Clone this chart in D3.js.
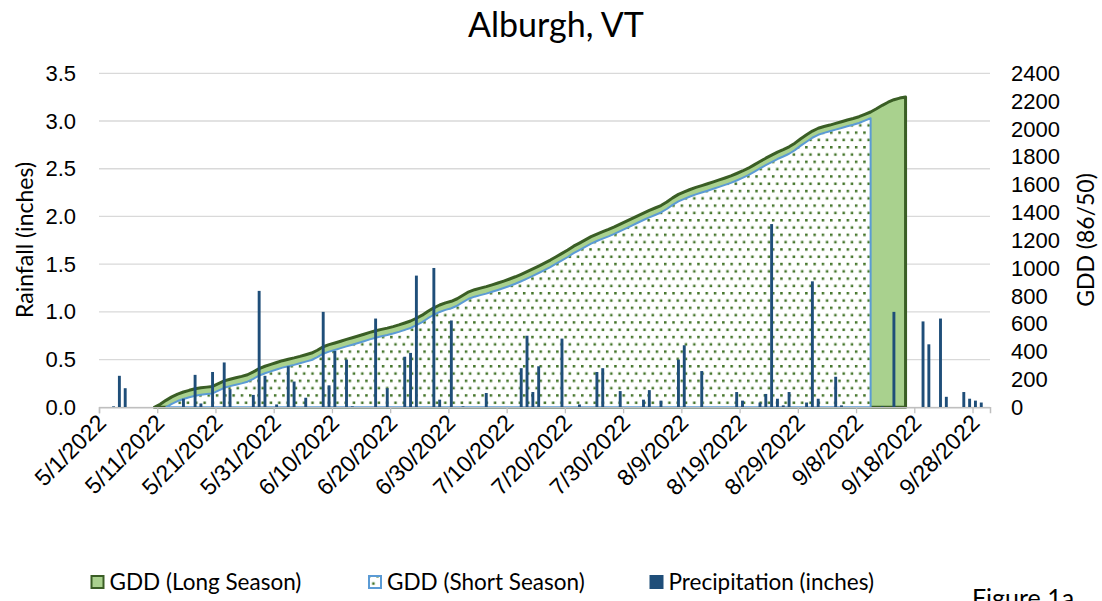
<!DOCTYPE html>
<html>
<head>
<meta charset="utf-8">
<script src="https://cdn.jsdelivr.net/npm/d3@7"></script>
<style>
  body { margin: 0; background: #fff; }
  svg { display: block; font-family: Lato, "Open Sans", sans-serif; }
</style>
</head>
<body>
<svg id="chart" width="1102" height="601"></svg>
<script>
const title = "Alburgh, VT";
const rainTitle = "Rainfall (inches)";
const gddTitle = "GDD (86/50)";
const figureLabel = "Figure 1a";

const xTickDates = ["5/1/2022", "5/11/2022", "5/21/2022", "5/31/2022", "6/10/2022", "6/20/2022",
  "6/30/2022", "7/10/2022", "7/20/2022", "7/30/2022", "8/9/2022", "8/19/2022", "8/29/2022",
  "9/8/2022", "9/18/2022", "9/28/2022"];
const rainTicks = [0, 0.5, 1, 1.5, 2, 2.5, 3, 3.5];
const gddTicks = [0, 200, 400, 600, 800, 1000, 1200, 1400, 1600, 1800, 2000, 2200, 2400];

// cumulative GDD, one value per day from the start date
const gddLongStart = "5/10/2022";
const gddLong = [
  0, 22, 50, 75, 95, 110, 122, 133, 140, 145,
  150, 170, 190, 202, 212, 222, 234, 255, 278, 295,
  308, 322, 335, 345, 355, 366, 378, 390, 410, 435,
  450, 462, 475, 488, 500, 512, 525, 538, 550, 560,
  569, 580, 592, 606, 620, 640, 662, 690, 715, 735,
  750, 762, 780, 805, 830, 845, 856, 867, 880, 893,
  907, 922, 938, 956, 975, 995, 1015, 1036, 1058, 1082,
  1106, 1130, 1158, 1180, 1203, 1226, 1245, 1262, 1278, 1296,
  1316, 1336, 1356, 1376, 1396, 1415, 1432, 1450, 1475, 1505,
  1530, 1548, 1565, 1580, 1593, 1606, 1620, 1634, 1648, 1663,
  1680, 1698, 1718, 1742, 1766, 1790, 1812, 1834, 1852, 1872,
  1898, 1930, 1958, 1985, 2005, 2018, 2028, 2040, 2052, 2064,
  2075, 2088, 2105, 2122, 2145, 2170, 2192, 2210, 2222, 2230
];

const gddShortStart = "5/12/2022";
const gddShort = [
  0, 25, 45, 60, 72, 83, 90, 95, 100, 120,
  140, 152, 162, 172, 184, 205, 228, 245, 258, 272,
  285, 295, 305, 316, 328, 340, 360, 385, 400, 412,
  425, 438, 450, 462, 475, 488, 500, 510, 519, 530,
  542, 556, 570, 590, 612, 640, 665, 685, 700, 712,
  730, 755, 780, 795, 806, 817, 830, 843, 857, 872,
  888, 906, 925, 945, 965, 986, 1008, 1032, 1056, 1080,
  1108, 1130, 1153, 1176, 1195, 1212, 1228, 1246, 1266, 1286,
  1306, 1326, 1346, 1365, 1382, 1400, 1425, 1455, 1480, 1498,
  1515, 1530, 1543, 1556, 1570, 1584, 1598, 1613, 1630, 1648,
  1668, 1692, 1716, 1740, 1762, 1784, 1802, 1822, 1848, 1880,
  1908, 1937, 1958, 1972, 1983, 1995, 2007, 2019, 2030, 2043,
  2060, 2077
];

const precipDates = [
  "5/3/2022", "5/4/2022", "5/5/2022", "5/15/2022", "5/17/2022", "5/18/2022", "5/20/2022",
  "5/22/2022", "5/23/2022", "5/27/2022", "5/28/2022", "5/29/2022", "5/31/2022", "6/2/2022",
  "6/3/2022", "6/5/2022", "6/8/2022", "6/9/2022", "6/10/2022", "6/12/2022", "6/13/2022",
  "6/17/2022", "6/19/2022", "6/22/2022", "6/23/2022", "6/24/2022", "6/27/2022", "6/28/2022",
  "6/30/2022", "7/2/2022", "7/6/2022", "7/12/2022", "7/13/2022", "7/14/2022", "7/15/2022",
  "7/19/2022", "7/22/2022", "7/25/2022", "7/26/2022", "7/29/2022", "8/2/2022", "8/3/2022",
  "8/5/2022", "8/8/2022", "8/9/2022", "8/12/2022", "8/18/2022", "8/19/2022", "8/22/2022",
  "8/23/2022", "8/24/2022", "8/25/2022", "8/26/2022", "8/27/2022", "8/30/2022", "8/31/2022",
  "9/1/2022", "9/4/2022", "9/5/2022", "9/12/2022", "9/14/2022", "9/19/2022", "9/20/2022",
  "9/22/2022", "9/23/2022", "9/26/2022", "9/27/2022", "9/28/2022", "9/29/2022"
];
const precipValues = [
  0.01, 0.33, 0.20, 0.09, 0.34, 0.04, 0.37,
  0.47, 0.19, 0.13, 1.22, 0.33, 0.03, 0.43,
  0.27, 0.10, 1.00, 0.23, 0.59, 0.50, 0.01,
  0.93, 0.20, 0.53, 0.57, 1.38, 1.46, 0.08,
  0.91, 0.01, 0.15, 0.41, 0.75, 0.16, 0.43,
  0.72, 0.03, 0.37, 0.41, 0.17, 0.08, 0.18,
  0.07, 0.50, 0.65, 0.38, 0.16, 0.07, 0.05,
  0.14, 1.92, 0.09, 0.02, 0.16, 0.05, 1.32,
  0.09, 0.32, 0.02, 0.01, 1.00, 0.90, 0.66,
  0.93, 0.11, 0.16, 0.09, 0.07, 0.05
];

const legendNames = ["GDD (Long Season)", "GDD (Short Season)", "Precipitation (inches)"];

const parseDate = d3.timeParse("%m/%d/%Y");
const formatDate = d3.timeFormat("%-m/%-d/%Y");

const margin = { left: 99, right: 990, top: 73.3, bottom: 407.3 };

const svg = d3.select("#chart");
svg.append("rect").attr("width", 1102).attr("height", 601).attr("fill", "#fff");

// dotted fill used by the short season area
const defs = svg.append("defs");
const pat = defs.append("pattern")
  .attr("id", "dots")
  .attr("patternUnits", "userSpaceOnUse")
  .attr("width", 8.3)
  .attr("height", 14.6);
pat.append("rect").attr("width", 8.3).attr("height", 14.6).attr("fill", "#fff");
pat.append("rect").attr("x", 0).attr("y", 0).attr("width", 2.5).attr("height", 2.5).attr("fill", "#44752a");
pat.append("rect").attr("x", 4.15).attr("y", 7.3).attr("width", 2.5).attr("height", 2.5).attr("fill", "#44752a");

const x = d3.scaleTime()
  .domain([parseDate("5/1/2022"), parseDate("10/1/2022")])
  .range([margin.left, margin.right]);
const yRain = d3.scaleLinear().domain([0, 3.5]).range([margin.bottom, margin.top]);
const yGdd = d3.scaleLinear().domain([0, 2400]).range([margin.bottom, margin.top]);

// bars and area points sit in the middle of their day
const mid = (d) => x(d3.timeHour.offset(d, 12));

// gridlines
svg.append("g")
  .selectAll("line")
  .data(rainTicks)
  .join("line")
  .attr("x1", margin.left)
  .attr("x2", margin.right)
  .attr("y1", (d) => yRain(d))
  .attr("y2", (d) => yRain(d))
  .attr("stroke", "#d9d9d9")
  .attr("stroke-width", 1.3);

const toSeries = (start, values) => {
  const s = parseDate(start);
  return values.map((v, i) => ({ date: d3.timeDay.offset(s, i), value: v }));
};

const area = d3.area()
  .x((d) => mid(d.date))
  .y0(yGdd(0))
  .y1((d) => yGdd(d.value));

svg.append("path")
  .datum(toSeries(gddLongStart, gddLong))
  .attr("d", area)
  .attr("fill", "#a9d18e")
  .attr("stroke", "#3a5e25")
  .attr("stroke-width", 3)
  .attr("stroke-linejoin", "round");

svg.append("path")
  .datum(toSeries(gddShortStart, gddShort))
  .attr("d", area)
  .attr("fill", "url(#dots)")
  .attr("stroke", "#5b9bd5")
  .attr("stroke-width", 2)
  .attr("stroke-linejoin", "round");

// precipitation columns
const precip = precipDates.map((d, i) => ({ date: parseDate(d), value: precipValues[i] }));
const barW = 2.9;
svg.append("g")
  .selectAll("rect")
  .data(precip)
  .join("rect")
  .attr("x", (d) => mid(d.date) - barW / 2)
  .attr("y", (d) => yRain(d.value))
  .attr("width", barW)
  .attr("height", (d) => Math.max(0.8, yRain(0) - yRain(d.value)))
  .attr("fill", "#1f4e79");

// x axis
const xAxis = svg.append("g")
  .attr("transform", `translate(0,${margin.bottom})`)
  .call(
    d3.axisBottom(x)
      .tickValues(xTickDates.map(parseDate))
      .tickFormat(formatDate)
      .tickSizeOuter(0)
      .tickSize(6)
  );
xAxis.select(".domain").attr("stroke", "#bfbfbf").attr("stroke-width", 1.5);
xAxis.selectAll(".tick line").attr("stroke", "#bfbfbf").attr("stroke-width", 1.3);
xAxis.selectAll(".tick text")
  .attr("font-size", 23)
  .attr("fill", "#000")
  .attr("text-anchor", "end")
  .attr("dy", null)
  .attr("y", 0)
  .attr("transform", "translate(8,17) rotate(-45)");

// left axis
const leftAxis = svg.append("g")
  .attr("transform", `translate(${margin.left},0)`)
  .call(d3.axisLeft(yRain).tickValues(rainTicks).tickFormat(d3.format(".1f")).tickSize(0).tickPadding(23));
leftAxis.select(".domain").remove();
leftAxis.selectAll("text").attr("font-size", 22).attr("fill", "#000");

// right axis
const rightAxis = svg.append("g")
  .attr("transform", `translate(${margin.right},0)`)
  .call(d3.axisRight(yGdd).tickValues(gddTicks).tickFormat(d3.format("d")).tickSize(0).tickPadding(21));
rightAxis.select(".domain").remove();
rightAxis.selectAll("text").attr("font-size", 22).attr("fill", "#000");

// titles
svg.append("text")
  .attr("x", 556)
  .attr("y", 37)
  .attr("text-anchor", "middle")
  .attr("font-size", 34)
  .text(title);

svg.append("text")
  .attr("transform", "translate(33,240) rotate(-90)")
  .attr("text-anchor", "middle")
  .attr("font-size", 23)
  .text(rainTitle);

svg.append("text")
  .attr("transform", "translate(1094,240) rotate(-90)")
  .attr("text-anchor", "middle")
  .attr("font-size", 23)
  .text(gddTitle);

// legend
const legendX = [90.5, 368, 649.5];
const legend = svg.append("g")
  .selectAll("g")
  .data(legendNames)
  .join("g")
  .attr("transform", (d, i) => `translate(${legendX[i]},575)`);

legend.append("rect")
  .attr("x", (d, i) => (i === 2 ? 0 : 1))
  .attr("y", (d, i) => (i === 2 ? 0 : 1))
  .attr("width", (d, i) => (i === 2 ? 14 : 12))
  .attr("height", (d, i) => (i === 2 ? 14 : 12))
  .attr("fill", (d, i) => ["#a9d18e", "url(#dots)", "#1f4e79"][i])
  .attr("stroke", (d, i) => ["#3a5e25", "#5b9bd5", "none"][i])
  .attr("stroke-width", 2);

legend.append("text")
  .attr("x", 19)
  .attr("y", 14.5)
  .attr("font-size", 22.5)
  .text((d) => d);

svg.append("text")
  .attr("x", 972)
  .attr("y", 607)
  .attr("font-size", 25)
  .text(figureLabel);
</script>
</body>
</html>
